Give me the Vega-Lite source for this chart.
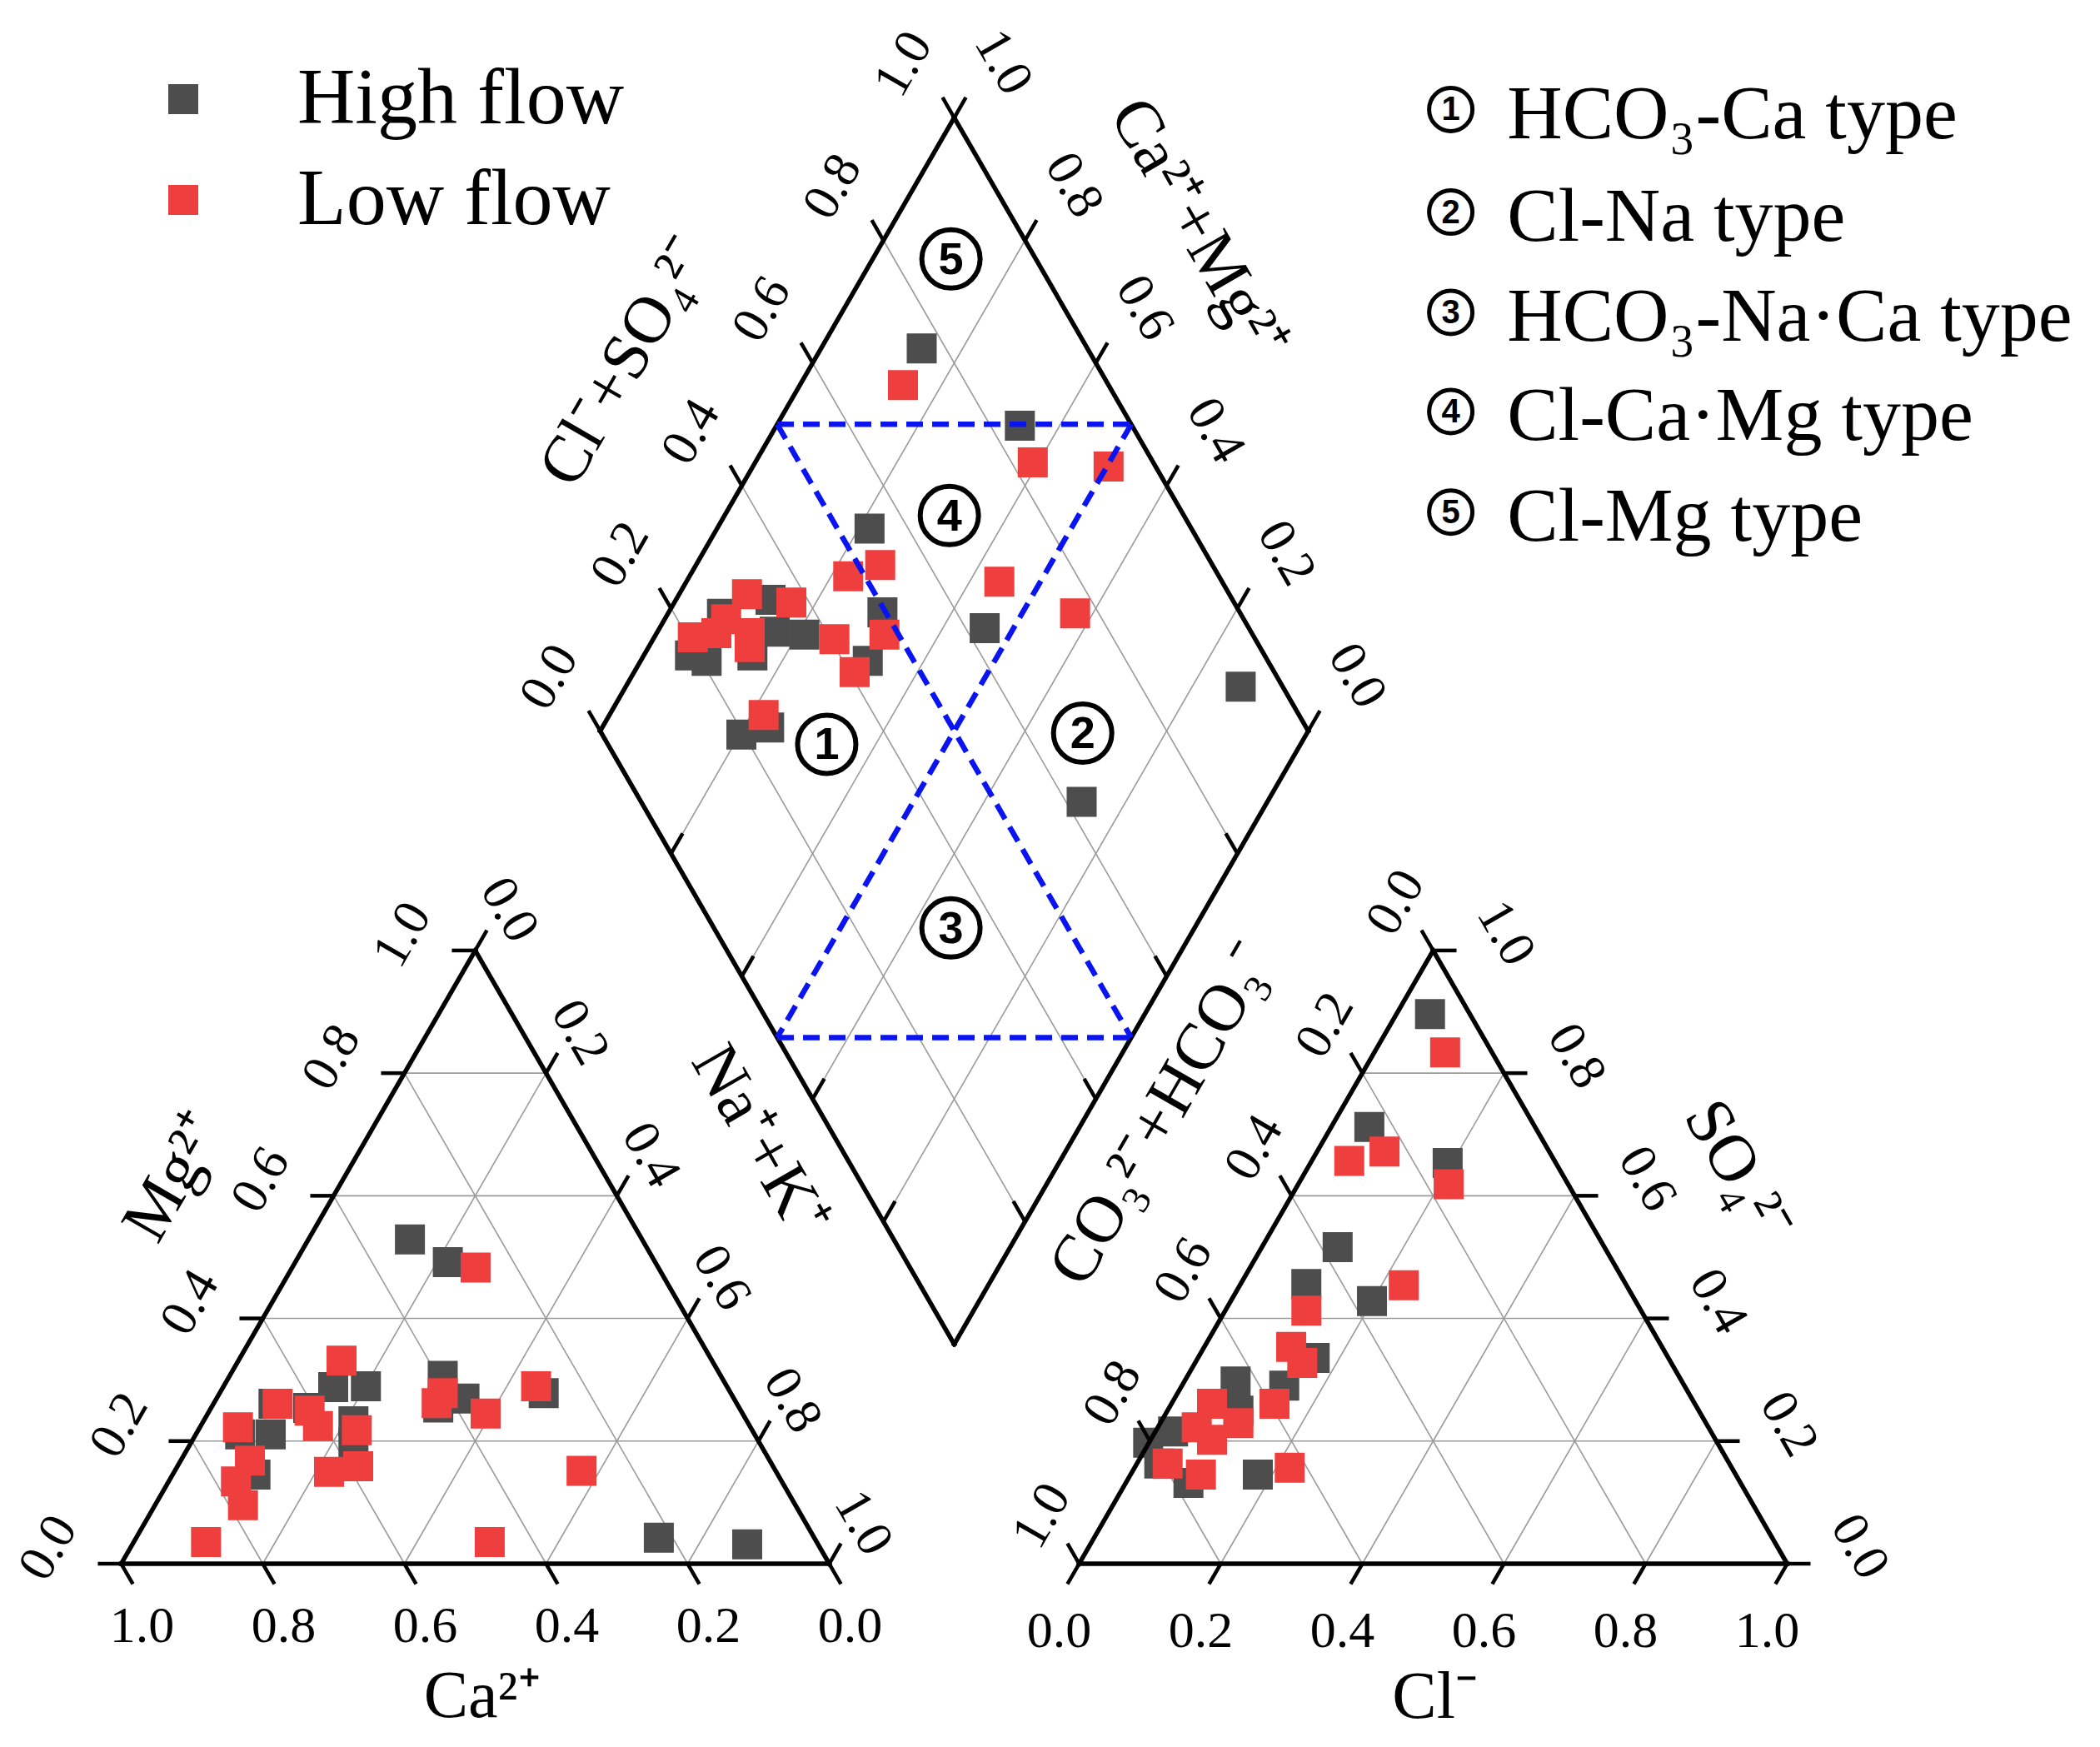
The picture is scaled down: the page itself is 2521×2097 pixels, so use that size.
{
  "$schema": "https://vega.github.io/schema/vega-lite/v6.json",
  "width": 2521,
  "height": 2097,
  "autosize": {"type": "fit", "contains": "padding"},
  "padding": 0,
  "background": "white",
  "config": {"view": {"stroke": null}},
  "datasets": {
    "segs": [
      {"k":"f","x":0,"y":0,"x2":1,"y2":0},
      {"k":"f","x":0,"y":0,"x2":0.5,"y2":0.866},
      {"k":"f","x":1,"y":0,"x2":0.5,"y2":0.866},
      {"k":"f","x":1.3529,"y":0,"x2":2.3529,"y2":0},
      {"k":"f","x":1.3529,"y":0,"x2":1.8529,"y2":0.866},
      {"k":"f","x":2.3529,"y":0,"x2":1.8529,"y2":0.866},
      {"k":"f","x":1.1765,"y":0.31,"x2":0.6765,"y2":1.176},
      {"k":"f","x":0.6765,"y":1.176,"x2":1.1765,"y2":2.042},
      {"k":"f","x":1.1765,"y":2.042,"x2":1.6765,"y2":1.176},
      {"k":"f","x":1.6765,"y":1.176,"x2":1.1765,"y2":0.31},
      {"k":"g","x":0.1,"y":0.1732,"x2":0.9,"y2":0.1732},
      {"k":"g","x":0.2,"y":0.3464,"x2":0.8,"y2":0.3464},
      {"k":"g","x":0.3,"y":0.5196,"x2":0.7,"y2":0.5196},
      {"k":"g","x":0.4,"y":0.6928,"x2":0.6,"y2":0.6928},
      {"k":"g","x":0.2,"y":0,"x2":0.6,"y2":0.6928},
      {"k":"g","x":0.4,"y":0,"x2":0.7,"y2":0.5196},
      {"k":"g","x":0.6,"y":0,"x2":0.8,"y2":0.3464},
      {"k":"g","x":0.8,"y":0,"x2":0.9,"y2":0.1732},
      {"k":"g","x":0.8,"y":0,"x2":0.4,"y2":0.6928},
      {"k":"g","x":0.6,"y":0,"x2":0.3,"y2":0.5196},
      {"k":"g","x":0.4,"y":0,"x2":0.2,"y2":0.3464},
      {"k":"g","x":0.2,"y":0,"x2":0.1,"y2":0.1732},
      {"k":"g","x":1.4529,"y":0.1732,"x2":2.2529,"y2":0.1732},
      {"k":"g","x":1.5529,"y":0.3464,"x2":2.1529,"y2":0.3464},
      {"k":"g","x":1.6529,"y":0.5196,"x2":2.0529,"y2":0.5196},
      {"k":"g","x":1.7529,"y":0.6928,"x2":1.9529,"y2":0.6928},
      {"k":"g","x":1.5529,"y":0,"x2":1.9529,"y2":0.6928},
      {"k":"g","x":1.7529,"y":0,"x2":2.0529,"y2":0.5196},
      {"k":"g","x":1.9529,"y":0,"x2":2.1529,"y2":0.3464},
      {"k":"g","x":2.1529,"y":0,"x2":2.2529,"y2":0.1732},
      {"k":"g","x":2.1529,"y":0,"x2":1.7529,"y2":0.6928},
      {"k":"g","x":1.9529,"y":0,"x2":1.6529,"y2":0.5196},
      {"k":"g","x":1.7529,"y":0,"x2":1.5529,"y2":0.3464},
      {"k":"g","x":1.5529,"y":0,"x2":1.4529,"y2":0.1732},
      {"k":"g","x":0.7765,"y":1.3492,"x2":1.2765,"y2":0.4832},
      {"k":"g","x":0.8765,"y":1.5224,"x2":1.3765,"y2":0.6564},
      {"k":"g","x":0.9765,"y":1.6956,"x2":1.4765,"y2":0.8296},
      {"k":"g","x":1.0765,"y":1.8688,"x2":1.5765,"y2":1.0028},
      {"k":"g","x":1.0765,"y":0.4832,"x2":1.5765,"y2":1.3492},
      {"k":"g","x":0.9765,"y":0.6564,"x2":1.4765,"y2":1.5224},
      {"k":"g","x":0.8765,"y":0.8296,"x2":1.3765,"y2":1.6956},
      {"k":"g","x":0.7765,"y":1.0028,"x2":1.2765,"y2":1.8688},
      {"k":"t","x":0,"y":0,"x2":0.0165,"y2":-0.0286},
      {"k":"t","x":0.2,"y":0,"x2":0.2165,"y2":-0.0286},
      {"k":"t","x":0.4,"y":0,"x2":0.4165,"y2":-0.0286},
      {"k":"t","x":0.6,"y":0,"x2":0.6165,"y2":-0.0286},
      {"k":"t","x":0.8,"y":0,"x2":0.8165,"y2":-0.0286},
      {"k":"t","x":1,"y":0,"x2":1.0165,"y2":-0.0286},
      {"k":"t","x":0,"y":0,"x2":-0.033,"y2":0},
      {"k":"t","x":0.1,"y":0.1732,"x2":0.067,"y2":0.1732},
      {"k":"t","x":0.2,"y":0.3464,"x2":0.167,"y2":0.3464},
      {"k":"t","x":0.3,"y":0.5196,"x2":0.267,"y2":0.5196},
      {"k":"t","x":0.4,"y":0.6928,"x2":0.367,"y2":0.6928},
      {"k":"t","x":0.5,"y":0.866,"x2":0.467,"y2":0.866},
      {"k":"t","x":0.5,"y":0.866,"x2":0.5165,"y2":0.8946},
      {"k":"t","x":0.6,"y":0.6928,"x2":0.6165,"y2":0.7214},
      {"k":"t","x":0.7,"y":0.5196,"x2":0.7165,"y2":0.5482},
      {"k":"t","x":0.8,"y":0.3464,"x2":0.8165,"y2":0.375},
      {"k":"t","x":0.9,"y":0.1732,"x2":0.9165,"y2":0.2018},
      {"k":"t","x":1,"y":0,"x2":1.0165,"y2":0.0286},
      {"k":"t","x":1.3529,"y":0,"x2":1.3364,"y2":-0.0286},
      {"k":"t","x":1.5529,"y":0,"x2":1.5364,"y2":-0.0286},
      {"k":"t","x":1.7529,"y":0,"x2":1.7364,"y2":-0.0286},
      {"k":"t","x":1.9529,"y":0,"x2":1.9364,"y2":-0.0286},
      {"k":"t","x":2.1529,"y":0,"x2":2.1364,"y2":-0.0286},
      {"k":"t","x":2.3529,"y":0,"x2":2.3364,"y2":-0.0286},
      {"k":"t","x":2.3529,"y":0,"x2":2.3859,"y2":0},
      {"k":"t","x":2.2529,"y":0.1732,"x2":2.2859,"y2":0.1732},
      {"k":"t","x":2.1529,"y":0.3464,"x2":2.1859,"y2":0.3464},
      {"k":"t","x":2.0529,"y":0.5196,"x2":2.0859,"y2":0.5196},
      {"k":"t","x":1.9529,"y":0.6928,"x2":1.9859,"y2":0.6928},
      {"k":"t","x":1.8529,"y":0.866,"x2":1.8859,"y2":0.866},
      {"k":"t","x":1.3529,"y":0,"x2":1.3364,"y2":0.0286},
      {"k":"t","x":1.4529,"y":0.1732,"x2":1.4364,"y2":0.2018},
      {"k":"t","x":1.5529,"y":0.3464,"x2":1.5364,"y2":0.375},
      {"k":"t","x":1.6529,"y":0.5196,"x2":1.6364,"y2":0.5482},
      {"k":"t","x":1.7529,"y":0.6928,"x2":1.7364,"y2":0.7214},
      {"k":"t","x":1.8529,"y":0.866,"x2":1.8364,"y2":0.8946},
      {"k":"t","x":0.6765,"y":1.176,"x2":0.66,"y2":1.2046},
      {"k":"t","x":0.7765,"y":1.3492,"x2":0.76,"y2":1.3778},
      {"k":"t","x":0.8765,"y":1.5224,"x2":0.86,"y2":1.551},
      {"k":"t","x":0.9765,"y":1.6956,"x2":0.96,"y2":1.7242},
      {"k":"t","x":1.0765,"y":1.8688,"x2":1.06,"y2":1.8974},
      {"k":"t","x":1.1765,"y":2.042,"x2":1.16,"y2":2.0706},
      {"k":"t","x":1.6765,"y":1.176,"x2":1.693,"y2":1.2046},
      {"k":"t","x":1.5765,"y":1.3492,"x2":1.593,"y2":1.3778},
      {"k":"t","x":1.4765,"y":1.5224,"x2":1.493,"y2":1.551},
      {"k":"t","x":1.3765,"y":1.6956,"x2":1.393,"y2":1.7242},
      {"k":"t","x":1.2765,"y":1.8688,"x2":1.293,"y2":1.8974},
      {"k":"t","x":1.1765,"y":2.042,"x2":1.193,"y2":2.0706},
      {"k":"t","x":1.0765,"y":0.4832,"x2":1.093,"y2":0.5118},
      {"k":"t","x":0.9765,"y":0.6564,"x2":0.993,"y2":0.685},
      {"k":"t","x":0.8765,"y":0.8296,"x2":0.893,"y2":0.8582},
      {"k":"t","x":0.7765,"y":1.0028,"x2":0.793,"y2":1.0314},
      {"k":"t","x":1.2765,"y":0.4832,"x2":1.26,"y2":0.5118},
      {"k":"t","x":1.3765,"y":0.6564,"x2":1.36,"y2":0.685},
      {"k":"t","x":1.4765,"y":0.8296,"x2":1.46,"y2":0.8582},
      {"k":"t","x":1.5765,"y":1.0028,"x2":1.56,"y2":1.0314},
      {"k":"b","x":0.9265,"y":1.609,"x2":1.4265,"y2":1.609},
      {"k":"b","x":0.9265,"y":0.743,"x2":1.4265,"y2":0.743},
      {"k":"b","x":0.9265,"y":1.609,"x2":1.4265,"y2":0.743},
      {"k":"b","x":1.4265,"y":1.609,"x2":0.9265,"y2":0.743}
    ],
    "pts": [
      {"flow":"High flow","x":0.4078,"y":0.4578},
      {"flow":"High flow","x":0.4613,"y":0.4259},
      {"flow":"High flow","x":0.4541,"y":0.2652},
      {"flow":"High flow","x":0.4478,"y":0.2205},
      {"flow":"High flow","x":0.4848,"y":0.2333},
      {"flow":"High flow","x":0.5967,"y":0.2409},
      {"flow":"High flow","x":0.7593,"y":0.0368},
      {"flow":"High flow","x":0.8841,"y":0.0273},
      {"flow":"High flow","x":0.2994,"y":0.2494},
      {"flow":"High flow","x":0.3456,"y":0.2506},
      {"flow":"High flow","x":0.2151,"y":0.2259},
      {"flow":"High flow","x":0.2641,"y":0.22},
      {"flow":"High flow","x":0.2112,"y":0.1827},
      {"flow":"High flow","x":0.168,"y":0.1827},
      {"flow":"High flow","x":0.328,"y":0.2012},
      {"flow":"High flow","x":0.328,"y":0.171},
      {"flow":"High flow","x":0.1896,"y":0.1259},
      {"flow":"High flow","x":1.8485,"y":0.7761},
      {"flow":"High flow","x":1.7628,"y":0.6169},
      {"flow":"High flow","x":1.8734,"y":0.566},
      {"flow":"High flow","x":1.718,"y":0.4472},
      {"flow":"High flow","x":1.6738,"y":0.3949},
      {"flow":"High flow","x":1.7665,"y":0.3709},
      {"flow":"High flow","x":1.6856,"y":0.2906},
      {"flow":"High flow","x":1.6426,"y":0.2514},
      {"flow":"High flow","x":1.5739,"y":0.2573},
      {"flow":"High flow","x":1.6053,"y":0.1259},
      {"flow":"High flow","x":1.4504,"y":0.1709},
      {"flow":"High flow","x":1.4856,"y":0.1867},
      {"flow":"High flow","x":1.5779,"y":0.2161},
      {"flow":"High flow","x":1.4661,"y":0.1415},
      {"flow":"High flow","x":1.5073,"y":0.1141},
      {"flow":"High flow","x":1.1306,"y":1.7161},
      {"flow":"High flow","x":1.2692,"y":1.6072},
      {"flow":"High flow","x":1.0569,"y":1.4618},
      {"flow":"High flow","x":1.2195,"y":1.3211},
      {"flow":"High flow","x":1.5811,"y":1.2386},
      {"flow":"High flow","x":1.3565,"y":1.0758},
      {"flow":"High flow","x":1.0751,"y":1.3435},
      {"flow":"High flow","x":1.0544,"y":1.2749},
      {"flow":"High flow","x":0.9649,"y":1.3121},
      {"flow":"High flow","x":0.8759,"y":1.1709},
      {"flow":"High flow","x":0.9151,"y":1.1808},
      {"flow":"High flow","x":0.9171,"y":1.3612},
      {"flow":"High flow","x":0.9229,"y":1.3161},
      {"flow":"High flow","x":0.8485,"y":1.3415},
      {"flow":"High flow","x":0.8033,"y":1.2827},
      {"flow":"High flow","x":0.8268,"y":1.2749},
      {"flow":"High flow","x":0.8915,"y":1.2827},
      {"flow":"Low flow","x":0.5005,"y":0.4182},
      {"flow":"Low flow","x":0.4541,"y":0.2409},
      {"flow":"Low flow","x":0.4455,"y":0.2269},
      {"flow":"Low flow","x":0.5147,"y":0.2122},
      {"flow":"Low flow","x":0.586,"y":0.2505},
      {"flow":"Low flow","x":0.6502,"y":0.1313},
      {"flow":"Low flow","x":0.1198,"y":0.0306},
      {"flow":"Low flow","x":0.5205,"y":0.0306},
      {"flow":"Low flow","x":0.3112,"y":0.2867},
      {"flow":"Low flow","x":0.2209,"y":0.2259},
      {"flow":"Low flow","x":0.2661,"y":0.2161},
      {"flow":"Low flow","x":0.2779,"y":0.1945},
      {"flow":"Low flow","x":0.1649,"y":0.1926},
      {"flow":"Low flow","x":0.3327,"y":0.1886},
      {"flow":"Low flow","x":0.1818,"y":0.1455},
      {"flow":"Low flow","x":0.1621,"y":0.1161},
      {"flow":"Low flow","x":0.172,"y":0.0827},
      {"flow":"Low flow","x":0.2935,"y":0.1298},
      {"flow":"Low flow","x":0.3347,"y":0.1376},
      {"flow":"Low flow","x":1.8698,"y":0.722},
      {"flow":"Low flow","x":1.7842,"y":0.5822},
      {"flow":"Low flow","x":1.7344,"y":0.5689},
      {"flow":"Low flow","x":1.8748,"y":0.536},
      {"flow":"Low flow","x":1.8114,"y":0.3931},
      {"flow":"Low flow","x":1.6739,"y":0.3573},
      {"flow":"Low flow","x":1.6524,"y":0.3062},
      {"flow":"Low flow","x":1.668,"y":0.2835},
      {"flow":"Low flow","x":1.6288,"y":0.2259},
      {"flow":"Low flow","x":1.6504,"y":0.1356},
      {"flow":"Low flow","x":1.5406,"y":0.2259},
      {"flow":"Low flow","x":1.5779,"y":0.1985},
      {"flow":"Low flow","x":1.519,"y":0.1926},
      {"flow":"Low flow","x":1.5406,"y":0.1749},
      {"flow":"Low flow","x":1.4779,"y":0.1415},
      {"flow":"Low flow","x":1.5249,"y":0.1259},
      {"flow":"Low flow","x":1.1041,"y":1.6644},
      {"flow":"Low flow","x":1.2874,"y":1.5554},
      {"flow":"Low flow","x":1.3945,"y":1.5495},
      {"flow":"Low flow","x":1.072,"y":1.4102},
      {"flow":"Low flow","x":1.0268,"y":1.3945},
      {"flow":"Low flow","x":1.2402,"y":1.3867},
      {"flow":"Low flow","x":1.3472,"y":1.342},
      {"flow":"Low flow","x":1.0779,"y":1.3121},
      {"flow":"Low flow","x":1.0359,"y":1.2592},
      {"flow":"Low flow","x":1.0073,"y":1.3055},
      {"flow":"Low flow","x":0.9073,"y":1.1985},
      {"flow":"Low flow","x":0.8838,"y":1.3691},
      {"flow":"Low flow","x":0.9465,"y":1.3573},
      {"flow":"Low flow","x":0.8544,"y":1.3338},
      {"flow":"Low flow","x":0.8876,"y":1.3141},
      {"flow":"Low flow","x":0.8073,"y":1.3082},
      {"flow":"Low flow","x":0.8876,"y":1.2945},
      {"flow":"Low flow","x":0.8406,"y":1.3141}
    ],
    "labs": [
      {"k":"h","x":0.0294,"y":-0.0879,"t":"1.0"},
      {"k":"h","x":0.2294,"y":-0.0879,"t":"0.8"},
      {"k":"h","x":0.4294,"y":-0.0879,"t":"0.6"},
      {"k":"h","x":0.6294,"y":-0.0879,"t":"0.4"},
      {"k":"h","x":0.8294,"y":-0.0879,"t":"0.2"},
      {"k":"h","x":1.0294,"y":-0.0879,"t":"0.0"},
      {"k":"h","x":1.3247,"y":-0.0956,"t":"0.0"},
      {"k":"h","x":1.5247,"y":-0.0956,"t":"0.2"},
      {"k":"h","x":1.7247,"y":-0.0956,"t":"0.4"},
      {"k":"h","x":1.9247,"y":-0.0956,"t":"0.6"},
      {"k":"h","x":2.1247,"y":-0.0956,"t":"0.8"},
      {"k":"h","x":2.3247,"y":-0.0956,"t":"1.0"},
      {"k":"l","x":-0.1029,"y":0.0224,"t":"0.0"},
      {"k":"l","x":-0.0029,"y":0.1956,"t":"0.2"},
      {"k":"l","x":0.0971,"y":0.3688,"t":"0.4"},
      {"k":"l","x":0.1971,"y":0.542,"t":"0.6"},
      {"k":"l","x":0.2971,"y":0.7152,"t":"0.8"},
      {"k":"l","x":0.3971,"y":0.8884,"t":"1.0"},
      {"k":"l","x":1.3,"y":0.0678,"t":"1.0"},
      {"k":"l","x":1.4,"y":0.241,"t":"0.8"},
      {"k":"l","x":1.5,"y":0.4142,"t":"0.6"},
      {"k":"l","x":1.6,"y":0.5874,"t":"0.4"},
      {"k":"l","x":1.7,"y":0.7606,"t":"0.2"},
      {"k":"l","x":1.8,"y":0.9338,"t":"0.0"},
      {"k":"l","x":0.6047,"y":1.252,"t":"0.0"},
      {"k":"l","x":0.7047,"y":1.4252,"t":"0.2"},
      {"k":"l","x":0.8047,"y":1.5984,"t":"0.4"},
      {"k":"l","x":0.9047,"y":1.7716,"t":"0.6"},
      {"k":"l","x":1.0047,"y":1.9448,"t":"0.8"},
      {"k":"l","x":1.1047,"y":2.118,"t":"1.0"},
      {"k":"r","x":0.5482,"y":0.9236,"t":"0.0"},
      {"k":"r","x":0.6482,"y":0.7504,"t":"0.2"},
      {"k":"r","x":0.7482,"y":0.5772,"t":"0.4"},
      {"k":"r","x":0.8482,"y":0.404,"t":"0.6"},
      {"k":"r","x":0.9482,"y":0.2308,"t":"0.8"},
      {"k":"r","x":1.0482,"y":0.0576,"t":"1.0"},
      {"k":"r","x":2.4558,"y":0.0242,"t":"0.0"},
      {"k":"r","x":2.3558,"y":0.1974,"t":"0.2"},
      {"k":"r","x":2.2558,"y":0.3706,"t":"0.4"},
      {"k":"r","x":2.1558,"y":0.5438,"t":"0.6"},
      {"k":"r","x":2.0558,"y":0.717,"t":"0.8"},
      {"k":"r","x":1.9558,"y":0.8902,"t":"1.0"},
      {"k":"r","x":1.2459,"y":2.1202,"t":"1.0"},
      {"k":"r","x":1.3459,"y":1.947,"t":"0.8"},
      {"k":"r","x":1.4459,"y":1.7738,"t":"0.6"},
      {"k":"r","x":1.5459,"y":1.6006,"t":"0.4"},
      {"k":"r","x":1.6459,"y":1.4274,"t":"0.2"},
      {"k":"r","x":1.7459,"y":1.2542,"t":"0.0"},
      {"k":"TH","x":0.5096,"y":-0.216,"t":"Ca²⁺"},
      {"k":"TH","x":1.8554,"y":-0.218,"t":"Cl⁻"},
      {"k":"TL","x":0.0748,"y":0.5458,"t":"Mg²⁺"},
      {"k":"TL","x":0.7121,"y":1.6972,"t":"Cl⁻+SO₄²⁻"},
      {"k":"TL","x":1.4706,"y":0.6351,"t":"CO₃²⁻+HCO₃⁻"},
      {"k":"TR","x":0.9019,"y":0.5967,"t":"Na⁺+K⁺"},
      {"k":"TR","x":1.5209,"y":1.8841,"t":"Ca²⁺+Mg²⁺"},
      {"k":"TR","x":2.2834,"y":0.554,"t":"SO₄²⁻"},
      {"k":"LG","x":1.9573,"y":2.013,"t":"HCO₃-Ca type"},
      {"k":"LG","x":1.9573,"y":1.8682,"t":"Cl-Na type"},
      {"k":"LG","x":1.9573,"y":1.7265,"t":"HCO₃-Na·Ca type"},
      {"k":"LG","x":1.9573,"y":1.5865,"t":"Cl-Ca·Mg type"},
      {"k":"LG","x":1.9573,"y":1.4445,"t":"Cl-Mg type"}
    ],
    "circ": [
      {"k":"big","x":1.1719,"y":1.8426,"t":"5"},
      {"k":"big","x":1.1696,"y":1.4802,"t":"4"},
      {"k":"big","x":0.9964,"y":1.1572,"t":"1"},
      {"k":"big","x":1.3579,"y":1.1729,"t":"2"},
      {"k":"big","x":1.1719,"y":0.8979,"t":"3"},
      {"k":"small","x":1.8778,"y":2.0536,"t":"1"},
      {"k":"small","x":1.8778,"y":1.9088,"t":"2"},
      {"k":"small","x":1.8778,"y":1.7671,"t":"3"},
      {"k":"small","x":1.8778,"y":1.6271,"t":"4"},
      {"k":"small","x":1.8778,"y":1.4851,"t":"5"}
    ]
  },
  "encoding": {
    "x": {"field": "x", "type": "quantitative", "scale": {"domain": [-0.17118, 2.79471], "nice": false, "zero": false}, "axis": null},
    "y": {"field": "y", "type": "quantitative", "scale": {"domain": [-0.25882, 2.20824], "nice": false, "zero": false}, "axis": null}
  },
  "layer": [
    {
      "data": {"name": "segs"},
      "transform": [{"filter": "datum.k == 'g'"}],
      "mark": {"type": "rule", "color": "#9a9a9a", "strokeWidth": 1.6},
      "encoding": {"x2": {"field": "x2"}, "y2": {"field": "y2"}}
    },
    {
      "data": {"name": "pts"},
      "mark": {"type": "point", "shape": "square", "filled": true, "size": 1296, "opacity": 1, "strokeWidth": 0},
      "encoding": {
        "color": {
          "field": "flow", "type": "nominal",
          "scale": {"domain": ["High flow", "Low flow"], "range": ["#4d4d4d", "#ee3e3e"]},
          "legend": {
            "orient": "none", "legendX": 172, "legendY": 71, "title": null,
            "symbolType": "square", "symbolSize": 1296, "symbolStrokeWidth": 0, "symbolOpacity": 1,
            "labelFont": "Liberation Serif", "labelFontSize": 96, "labelColor": "#000000",
            "labelOffset": 89, "labelLimit": 2000, "rowPadding": 25, "padding": 0
          }
        }
      }
    },
    {
      "data": {"name": "segs"},
      "transform": [{"filter": "datum.k == 'f'"}],
      "mark": {"type": "rule", "color": "#000000", "strokeWidth": 5.5, "strokeCap": "square"},
      "encoding": {"x2": {"field": "x2"}, "y2": {"field": "y2"}}
    },
    {
      "data": {"name": "segs"},
      "transform": [{"filter": "datum.k == 't'"}],
      "mark": {"type": "rule", "color": "#000000", "strokeWidth": 4.5},
      "encoding": {"x2": {"field": "x2"}, "y2": {"field": "y2"}}
    },
    {
      "data": {"name": "segs"},
      "transform": [{"filter": "datum.k == 'b'"}],
      "mark": {"type": "rule", "color": "#0a14f0", "strokeWidth": 6.5, "strokeDash": [20, 11]},
      "encoding": {"x2": {"field": "x2"}, "y2": {"field": "y2"}}
    },
    {
      "data": {"name": "labs"},
      "transform": [{"filter": "datum.k == 'h'"}],
      "mark": {"type": "text", "font": "Liberation Serif", "fontSize": 62, "align": "center", "baseline": "middle", "color": "#000000"},
      "encoding": {"text": {"field": "t"}}
    },
    {
      "data": {"name": "labs"},
      "transform": [{"filter": "datum.k == 'l'"}],
      "mark": {"type": "text", "font": "Liberation Serif", "fontSize": 62, "align": "center", "baseline": "middle", "angle": -60, "color": "#000000"},
      "encoding": {"text": {"field": "t"}}
    },
    {
      "data": {"name": "labs"},
      "transform": [{"filter": "datum.k == 'r'"}],
      "mark": {"type": "text", "font": "Liberation Serif", "fontSize": 62, "align": "center", "baseline": "middle", "angle": 60, "color": "#000000"},
      "encoding": {"text": {"field": "t"}}
    },
    {
      "data": {"name": "labs"},
      "transform": [{"filter": "datum.k == 'TH'"}],
      "mark": {"type": "text", "font": "Liberation Serif", "fontSize": 80, "align": "center", "baseline": "alphabetic", "color": "#000000"},
      "encoding": {"text": {"field": "t"}}
    },
    {
      "data": {"name": "labs"},
      "transform": [{"filter": "datum.k == 'TL'"}],
      "mark": {"type": "text", "font": "Liberation Serif", "fontSize": 80, "align": "center", "baseline": "middle", "angle": -60, "color": "#000000"},
      "encoding": {"text": {"field": "t"}}
    },
    {
      "data": {"name": "labs"},
      "transform": [{"filter": "datum.k == 'TR'"}],
      "mark": {"type": "text", "font": "Liberation Serif", "fontSize": 80, "align": "center", "baseline": "middle", "angle": 60, "color": "#000000"},
      "encoding": {"text": {"field": "t"}}
    },
    {
      "data": {"name": "labs"},
      "transform": [{"filter": "datum.k == 'LG'"}],
      "mark": {"type": "text", "font": "Liberation Serif", "fontSize": 92, "align": "left", "baseline": "alphabetic", "color": "#000000"},
      "encoding": {"text": {"field": "t"}}
    },
    {
      "data": {"name": "circ"},
      "transform": [{"filter": "datum.k == 'big'"}],
      "mark": {"type": "point", "shape": "circle", "filled": false, "size": 4900, "stroke": "#000000", "strokeWidth": 6, "opacity": 1}
    },
    {
      "data": {"name": "circ"},
      "transform": [{"filter": "datum.k == 'big'"}],
      "mark": {"type": "text", "font": "Liberation Sans", "fontSize": 54, "fontWeight": "bold", "align": "center", "baseline": "middle", "dy": 2, "color": "#000000"},
      "encoding": {"text": {"field": "t"}}
    },
    {
      "data": {"name": "circ"},
      "transform": [{"filter": "datum.k == 'small'"}],
      "mark": {"type": "point", "shape": "circle", "filled": false, "size": 2704, "stroke": "#000000", "strokeWidth": 5, "opacity": 1}
    },
    {
      "data": {"name": "circ"},
      "transform": [{"filter": "datum.k == 'small'"}],
      "mark": {"type": "text", "font": "Liberation Sans", "fontSize": 40, "fontWeight": "bold", "align": "center", "baseline": "middle", "dy": 1, "color": "#000000"},
      "encoding": {"text": {"field": "t"}}
    }
  ]
}
